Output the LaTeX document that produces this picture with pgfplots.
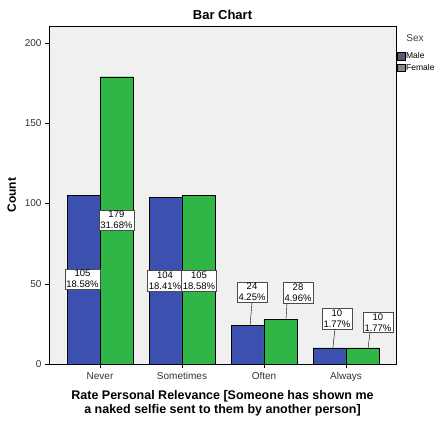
\documentclass[border=0pt]{standalone}
\usepackage{pgfplots}
\pgfplotsset{compat=1.18}
\usepackage{fontspec}
\setmainfont{Liberation Sans}

\definecolor{spssblue}{RGB}{60,80,176}
\definecolor{spssgreen}{RGB}{48,182,70}
\definecolor{plotbg}{RGB}{240,240,240}
\definecolor{legmale}{RGB}{85,90,110}
\definecolor{legfemale}{RGB}{130,140,130}

\tikzset{lbl/.style={draw=black!70, fill=white, line width=0.4pt, inner sep=1.3pt,
        align=center, font=\fontsize{9.5}{11}\selectfont}}

\begin{document}
\begin{tikzpicture}
\begin{axis}[
    scale only axis,
    width=347pt, height=338pt,
    ybar, bar width=0.4,
    xmin=-0.622, xmax=3.61,
    ymin=0, ymax=210.6,
    xtick={0,1,2,3},
    xticklabels={Never,Sometimes,Often,Always},
    ytick={0,50,100,150,200},
    xtick pos=bottom, ytick pos=left,
    tick align=outside,
    major tick length=4pt,
    tick style={black, line width=0.5pt},
    axis line style={black, line width=0.6pt},
    axis background/.style={fill=plotbg},
    ticklabel style={font=\fontsize{10}{12}\selectfont, text=black!80},
    /pgf/number format/assume math mode=true,
    xticklabel style={yshift=-1pt},
    title={\textbf{Bar Chart}},
    title style={font=\fontsize{13}{15}\selectfont, yshift=-3pt},
    ylabel={\textbf{Count}},
    ylabel style={font=\fontsize{12}{14}\selectfont, yshift=2pt},
    xlabel={\textbf{Rate Personal Relevance [Someone has shown me}\\\textbf{a naked selfie sent to them by another person]}},
    xlabel style={font=\fontsize{12.5}{13.5}\selectfont, align=center, yshift=-2pt},
    legend style={at={(1.003,0.926)}, anchor=north west, draw=none, fill=none,
        font=\fontsize{8.5}{10}\selectfont, inner sep=0pt, row sep=2pt,
        nodes={inner sep=1pt}},
    legend cell align=left,
    legend image code/.code={\draw[#1] (0pt,-3.7pt) rectangle (7.5pt,3.7pt);},
]
% Male
\addplot[fill=spssblue, draw=black, line width=0.4pt, bar shift=-0.2, forget plot]
    coordinates {(0,105) (1,104) (2,24) (3,10)};
% Female
\addplot[fill=spssgreen, draw=black, line width=0.4pt, bar shift=0.2, forget plot]
    coordinates {(0,179) (1,105) (2,28) (3,10)};

\addlegendimage{fill=legmale, draw=black}
\addlegendentry{Male}
\addlegendimage{fill=legfemale, draw=black}
\addlegendentry{Female}

% value labels
\node[lbl] at (axis cs:-0.213,53) {105\\18.58\%};
\node[lbl] at (axis cs:0.2,89.7) {179\\31.68\%};
\node[lbl] at (axis cs:0.793,52) {104\\18.41\%};
\node[lbl] at (axis cs:1.207,52) {105\\18.58\%};
\node[lbl] (om) at (axis cs:1.854,44.9) {24\\4.25\%};
\node[lbl] (of) at (axis cs:2.415,44.5) {28\\4.96\%};
\node[lbl] (am) at (axis cs:2.89,28.3) {10\\1.77\%};
\node[lbl] (af) at (axis cs:3.39,25.9) {10\\1.77\%};
\draw[black, line width=0.4pt] (om.south) -- (axis cs:1.83,24);
\draw[black, line width=0.4pt] ([xshift=-11pt]of.south) -- (axis cs:2.268,28);
\draw[black, line width=0.4pt] ([xshift=-2pt]am.south) -- (axis cs:2.84,10);
\draw[black, line width=0.4pt] ([xshift=-8pt]af.south) -- (axis cs:3.27,10);
\end{axis}
\node[font=\fontsize{10}{12}\selectfont, text=black!75] at (366pt,326pt) {Sex};
\pgfresetboundingbox
\path[use as bounding box] (-49pt,-57pt) rectangle (389pt,364pt);
\end{tikzpicture}
\end{document}
